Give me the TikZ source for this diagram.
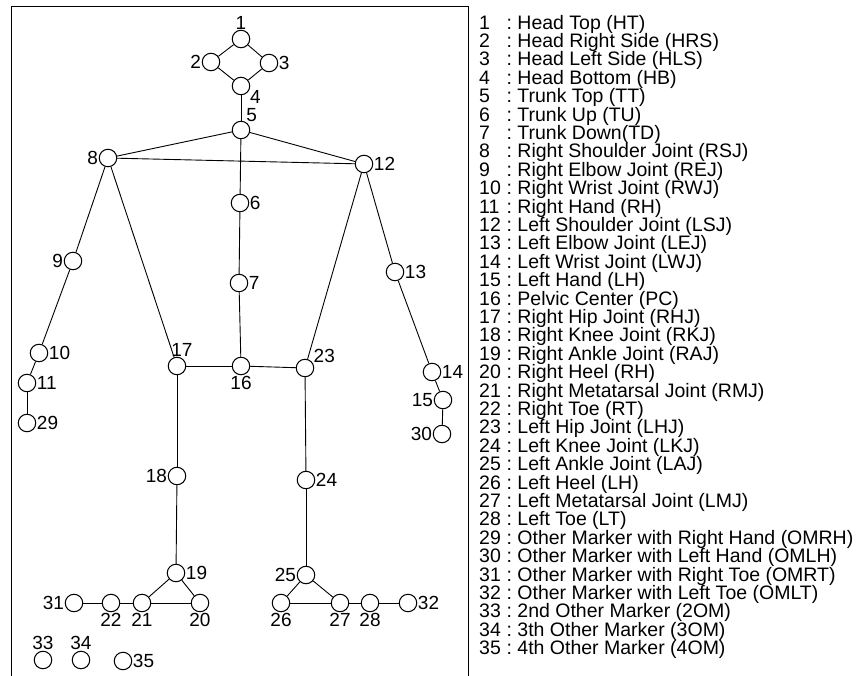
\documentclass[tikz,border=0pt]{standalone}
\usepackage{fontspec}
\setmainfont{Liberation Sans}
\usetikzlibrary{positioning}

\begin{document}
\begin{tikzpicture}[x=1pt, y=-1pt,
  joint/.style={circle, draw, line width=1pt, minimum size=17.5pt, inner sep=0pt},
  lbl/.style={font=\fontsize{19}{19}\selectfont, inner sep=0.5pt, label distance=0pt},
  bone/.style={line width=0.9pt},
  legend/.style={anchor=west, inner sep=0pt, font=\fontsize{19.5}{19.5}\selectfont}
]
  \useasboundingbox (0,0) rectangle (867,676);
  % frame
  \draw[line width=1pt] (11,676) -- (11,7) -- (468,7) -- (468,676);

  % head
  \node[joint, label={[lbl]above:1}] (j1) at (241,39) {};
  \node[joint, label={[lbl]left:2}] (j2) at (211,62) {};
  \node[joint, label={[lbl]right:3}] (j3) at (269,63) {};
  \node[joint, label={[lbl]-25:4}] (j4) at (241,86) {};
  % trunk
  \node[joint, label={[lbl]60:5}] (j5) at (241,130) {};
  \node[joint, label={[lbl]right:6}] (j6) at (240,203) {};
  \node[joint, label={[lbl]right:7}] (j7) at (239,283) {};
  \node[joint, label={[lbl]below:16}] (j16) at (241,366) {};
  % right arm
  \node[joint, label={[lbl]left:8}] (j8) at (108,158) {};
  \node[joint, label={[lbl]left:9}] (j9) at (73,261) {};
  \node[joint, label={[lbl]right:10}] (j10) at (39,353) {};
  \node[joint, label={[lbl]right:11}] (j11) at (27,383) {};
  \node[joint, label={[lbl]right:29}] (j29) at (27,423) {};
  % left arm
  \node[joint, label={[lbl]right:12}] (j12) at (364,164) {};
  \node[joint, label={[lbl]right:13}] (j13) at (395,272) {};
  \node[joint, label={[lbl]right:14}] (j14) at (432,372) {};
  \node[joint, label={[lbl]left:15}] (j15) at (443,400) {};
  \node[joint, label={[lbl]left:30}] (j30) at (442,434) {};
  % right leg
  \node[joint, label={[lbl, xshift=5pt]above:17}] (j17) at (177,366) {};
  \node[joint, label={[lbl]left:18}] (j18) at (177,476) {};
  \node[joint, label={[lbl]right:19}] (j19) at (176,573) {};
  \node[joint, label={[lbl]below:20}] (j20) at (200,603) {};
  \node[joint, label={[lbl]below:21}] (j21) at (142,603) {};
  \node[joint, label={[lbl]below:22}] (j22) at (111,603) {};
  \node[joint, label={[lbl]left:31}] (j31) at (74,603) {};
  % left leg
  \node[joint, label={[lbl]30:23}] (j23) at (305,368) {};
  \node[joint, label={[lbl]right:24}] (j24) at (306,480) {};
  \node[joint, label={[lbl]left:25}] (j25) at (306,575) {};
  \node[joint, label={[lbl]below:26}] (j26) at (281,603) {};
  \node[joint, label={[lbl]below:27}] (j27) at (340,603) {};
  \node[joint, label={[lbl]below:28}] (j28) at (370,603) {};
  \node[joint, label={[lbl]right:32}] (j32) at (408,603) {};
  % other markers
  \node[joint, label={[lbl]above:33}] (j33) at (43,660) {};
  \node[joint, label={[lbl]above:34}] (j34) at (81,660) {};
  \node[joint, label={[lbl]right:35}] (j35) at (123,661) {};

  % bones
  \foreach \a/\b in {1/2, 1/3, 2/4, 3/4, 4/5, 5/8, 5/12, 8/12, 5/6, 6/7, 7/16,
    8/9, 9/10, 10/11, 11/29, 12/13, 13/14, 14/15, 15/30, 8/17, 12/23,
    17/16, 16/23, 17/18, 18/19, 19/21, 19/20, 21/20, 31/22, 22/21,
    23/24, 24/25, 25/26, 25/27, 26/27, 27/28, 28/32}
    \draw[bone] (j\a) -- (j\b);

  % legend
  \foreach \n/\txt [count=\i] in {1/Head Top (HT), 2/Head Right Side (HRS),
    3/Head Left Side (HLS), 4/Head Bottom (HB), 5/Trunk Top (TT),
    6/Trunk Up (TU), 7/Trunk Down(TD), 8/Right Shoulder Joint (RSJ),
    9/Right Elbow Joint (REJ), 10/Right Wrist Joint (RWJ), 11/Right Hand (RH),
    12/Left Shoulder Joint (LSJ), 13/Left Elbow Joint (LEJ),
    14/Left Wrist Joint (LWJ), 15/Left Hand (LH), 16/Pelvic Center (PC),
    17/Right Hip Joint (RHJ), 18/Right Knee Joint (RKJ),
    19/Right Ankle Joint (RAJ), 20/Right Heel (RH),
    21/Right Metatarsal Joint (RMJ), 22/Right Toe (RT), 23/Left Hip Joint (LHJ),
    24/Left Knee Joint (LKJ), 25/Left Ankle Joint (LAJ), 26/Left Heel (LH),
    27/Left Metatarsal Joint (LMJ), 28/Left Toe (LT),
    29/Other Marker with Right Hand (OMRH), 30/Other Marker with Left Hand (OMLH),
    31/Other Marker with Right Toe (OMRT), 32/Other Marker with Left Toe (OMLT),
    33/2nd Other Marker (2OM), 34/3th Other Marker (3OM),
    35/4th Other Marker (4OM)}
    \node[legend] (leg\n) at (479,{24+(\i-1)*18.4}) {\makebox[22pt][l]{\n}\ :\ \txt};
\end{tikzpicture}
\end{document}
